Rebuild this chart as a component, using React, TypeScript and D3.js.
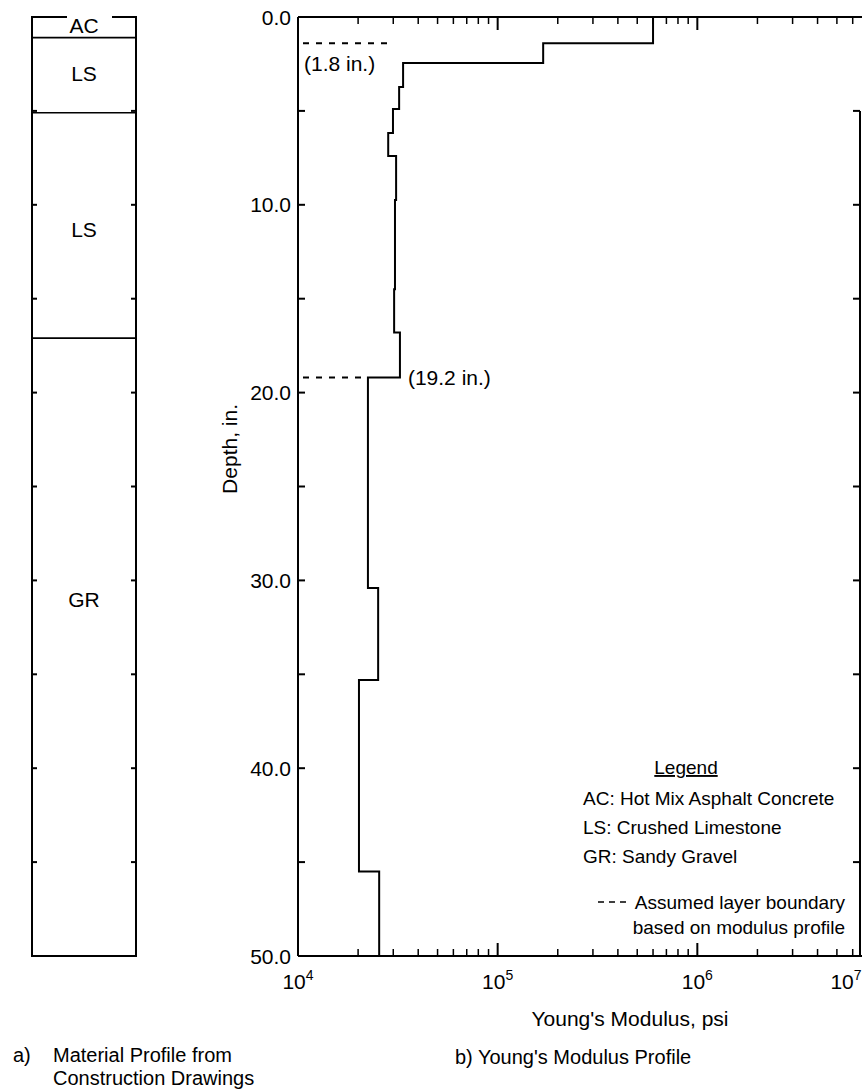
import React from 'react';
import * as d3 from 'd3';

const W = 862;
const H = 1089;

// b) Young's modulus profile: layer top depths (in), moduli (psi)
const layerTops = [0, 1.4, 2.45, 3.73, 4.9, 6.18, 7.4, 9.74, 14.5, 16.8, 19.2, 30.4, 35.3, 45.5];
const layerModulus = [6.0e5, 1.69e5, 3.36e4, 3.21e4, 2.99e4, 2.83e4, 3.1e4, 3.06e4, 3.03e4, 3.24e4, 2.24e4, 2.52e4, 2.02e4, 2.55e4];
const maxDepth = 50;

// assumed boundaries (dashed)
const boundaryDepths = [1.4, 19.2];
const boundaryLabels = ['(1.8 in.)', '(19.2 in.)'];

// a) material profile
const materialNames = ['AC', 'LS', 'LS', 'GR'];
const materialBottoms = [1.1, 5.1, 17.1, 50];
const materialLabelDepths = [0.45, 3.0, 11.3, 31.0];

// axes
const depthTicks = [0, 10, 20, 30, 40, 50];
const depthMinorTicks = [5, 15, 25, 35, 45];
const decadeExps = [4, 5, 6, 7];

const legendItems = ['AC: Hot Mix Asphalt Concrete', 'LS: Crushed Limestone', 'GR: Sandy Gravel'];
const legendDashText = ['Assumed layer boundary', 'based on modulus profile'];

const FONT = "'Liberation Sans', Arial, Helvetica, sans-serif";

export default function App() {
  const x = d3.scaleLog().domain([1e4, 1e7]).range([298, 897]);
  const y = d3.scaleLinear().domain([0, maxDepth]).range([17, 956]);
  const xL = 298;
  const xR = 860;
  const yT = y(0);
  const yB = y(maxDepth);

  const pts: [number, number][] = [];
  layerTops.forEach((t, i) => {
    const b = i < layerTops.length - 1 ? layerTops[i + 1] : maxDepth;
    pts.push([layerModulus[i], t]);
    pts.push([layerModulus[i], b]);
  });
  const line = d3.line<[number, number]>().x(d => x(d[0])).y(d => y(d[1]));

  const minor: number[] = [];
  const major: number[] = [];
  decadeExps.forEach(e => {
    major.push(Math.pow(10, e));
    if (e < 7) for (let k = 2; k <= 9; k++) minor.push(k * Math.pow(10, e));
  });
  const inside = (v: number) => x(v) <= W;

  const colL = 32;
  const colR = 136;

  const fs = 21;
  const depthAll = [...depthMinorTicks, ...depthTicks.slice(1, -1)];

  return (
    <svg width={W} height={H} style={{ position: 'absolute', left: 0, top: 0, background: '#fff' }} fontFamily={FONT}>
      <rect x={0} y={0} width={W} height={H} fill="#fff" />
      {/* ===== a) Material profile ===== */}
      <g stroke="#000" fill="none" strokeWidth={2}>
        <line x1={colL} y1={y(0)} x2={colL} y2={y(maxDepth)} />
        <line x1={colR} y1={y(0)} x2={colR} y2={y(maxDepth)} />
        <line x1={colL - 1} y1={y(maxDepth)} x2={colR + 1} y2={y(maxDepth)} />
        <line x1={colL - 1} y1={y(0)} x2={67} y2={y(0)} />
        <line x1={112} y1={y(0)} x2={colR + 1} y2={y(0)} />
        {materialBottoms.slice(0, -1).map((b, i) => (
          <line key={i} x1={colL} y1={y(b)} x2={colR} y2={y(b)} strokeWidth={1.6} />
        ))}
        {depthAll.map(d => (
          <g key={d}>
            <line x1={colL} y1={y(d)} x2={colL + 5} y2={y(d)} />
            <line x1={colR} y1={y(d)} x2={colR - 5} y2={y(d)} />
          </g>
        ))}
      </g>
      {materialNames.map((n, i) => (
        <text key={i} x={(colL + colR) / 2} y={y(materialLabelDepths[i])} dy="0.36em" textAnchor="middle" fontSize={fs}>
          {n}
        </text>
      ))}

      {/* ===== b) Modulus profile axes ===== */}
      <g stroke="#000" fill="none" strokeWidth={2}>
        <line x1={xL} y1={yT} x2={W} y2={yT} />
        <line x1={xL} y1={yB} x2={W} y2={yB} />
        <line x1={xL} y1={yT} x2={xL} y2={yB} />
        <line x1={xR} y1={y(5)} x2={xR} y2={yB} />
        {major.filter(inside).map(v => (
          <g key={'M' + v}>
            <line x1={x(v)} y1={yT} x2={x(v)} y2={yT + 13} />
            <line x1={x(v)} y1={yB} x2={x(v)} y2={yB - 13} />
          </g>
        ))}
        {minor.filter(inside).map(v => (
          <g key={'m' + v}>
            <line x1={x(v)} y1={yT} x2={x(v)} y2={yT + 7} strokeWidth={1.5} />
            <line x1={x(v)} y1={yB} x2={x(v)} y2={yB - 7} strokeWidth={1.5} />
          </g>
        ))}
        {depthAll.map(d => (
          <g key={'d' + d}>
            <line x1={xL} y1={y(d)} x2={xL + 7} y2={y(d)} />
            <line x1={xR} y1={y(d)} x2={xR - 7} y2={y(d)} />
          </g>
        ))}
      </g>
      {depthTicks.map(d => (
        <text key={d} x={xL - 7} y={y(d)} dy="0.36em" textAnchor="end" fontSize={fs}>
          {d.toFixed(1)}
        </text>
      ))}
      {decadeExps.map(e => {
        const px = Math.min(x(Math.pow(10, e)), W - 16);
        return (
          <text key={e} x={px} y={yB + 33} textAnchor="middle" fontSize={fs}>
            10<tspan dy={-9} fontSize={14}>{e}</tspan>
          </text>
        );
      })}
      <text x={630} y={yB + 70} textAnchor="middle" fontSize={fs}>Young's Modulus, psi</text>
      <text transform={`translate(237,${y(23)}) rotate(-90)`} textAnchor="middle" fontSize={fs}>Depth, in.</text>

      {/* profile */}
      <path d={line(pts) || ''} fill="none" stroke="#000" strokeWidth={2} />

      {/* assumed boundaries */}
      {boundaryDepths.map((b, i) => {
        const xEnd = i === 0 ? 394 : x(layerModulus[10]);
        return (
          <line key={i} x1={xL + 5} y1={y(b)} x2={xEnd} y2={y(b)} stroke="#000" strokeWidth={2} strokeDasharray="6,7" />
        );
      })}
      <text x={304} y={y(boundaryDepths[0]) + 20} dy="0.36em" fontSize={fs}>{boundaryLabels[0]}</text>
      <text x={x(layerModulus[9]) + 8} y={y(boundaryDepths[1])} dy="0.36em" fontSize={fs}>{boundaryLabels[1]}</text>

      {/* legend */}
      <text x={686} y={774} textAnchor="middle" fontSize={19} textDecoration="underline">Legend</text>
      {legendItems.map((t, i) => (
        <text key={i} x={583} y={805 + i * 29} fontSize={19}>{t}</text>
      ))}
      <line x1={598} y1={902} x2={630} y2={902} stroke="#000" strokeWidth={1.6} strokeDasharray="6,5" />
      {legendDashText.map((t, i) => (
        <text key={i} x={845} y={909 + i * 25} textAnchor="end" fontSize={19}>{t}</text>
      ))}

      {/* captions */}
      <text x={13} y={1062} fontSize={20}>a)</text>
      <text x={53} y={1062} fontSize={20}>Material Profile from</text>
      <text x={53} y={1085} fontSize={20}>Construction Drawings</text>
      <text x={455} y={1064} fontSize={20}>b) Young's Modulus Profile</text>
    </svg>
  );
}
